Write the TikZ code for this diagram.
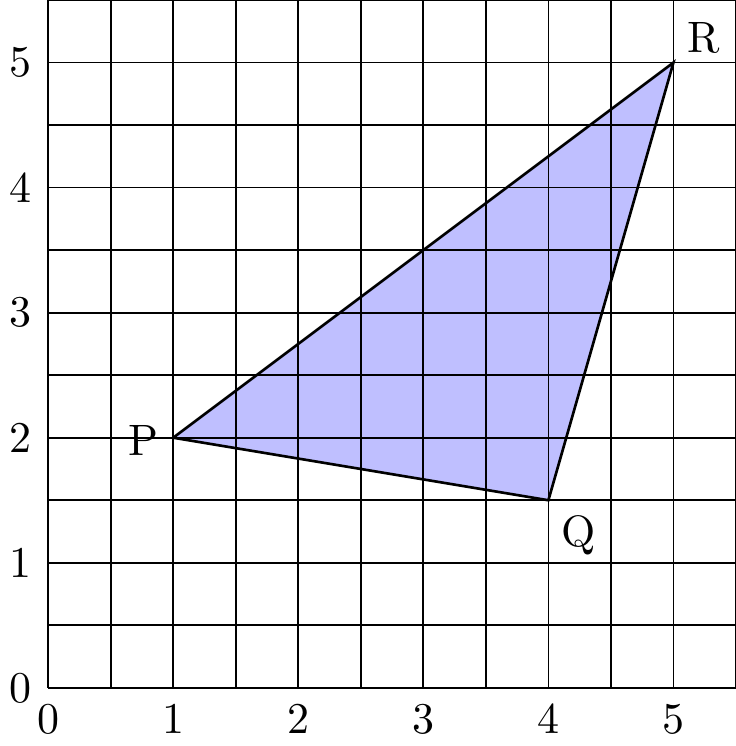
\documentclass[tikz,border=0pt]{standalone}
\usepackage{tikz}
\usetikzlibrary{positioning}
\usepackage{xcolor}

\begin{document}
\begin{tikzpicture}
  % frame of the picture
  \useasboundingbox (-0.385,-0.465) rectangle (5.5,5.5);
  % triangle corners
  \coordinate (P) at (1,2);
  \coordinate (Q) at (4,1.5);
  \coordinate (R) at (5,5);
  % fill under the grid
  \fill[blue!25] (P) -- (Q) -- (R) -- cycle;
  % grid
  \draw[thin] (0,0) grid[step=0.5] (5.5,5.5);
  % axis numbers
  \foreach \i in {0,...,5} {
    \node (x\i) at (\i,-0.25) {\i};
    \node (y\i) at (-0.22,\i) {\i};
  }
  % triangle outline
  \draw[semithick] (P) -- (Q) -- (R) -- cycle;
  % vertex labels
  \node (lP) at (0.76,1.98) {P};
  \node (lQ) at (4.24,1.22) {Q};
  \node (lR) at (5.24,5.2) {R};
\end{tikzpicture}
\end{document}
